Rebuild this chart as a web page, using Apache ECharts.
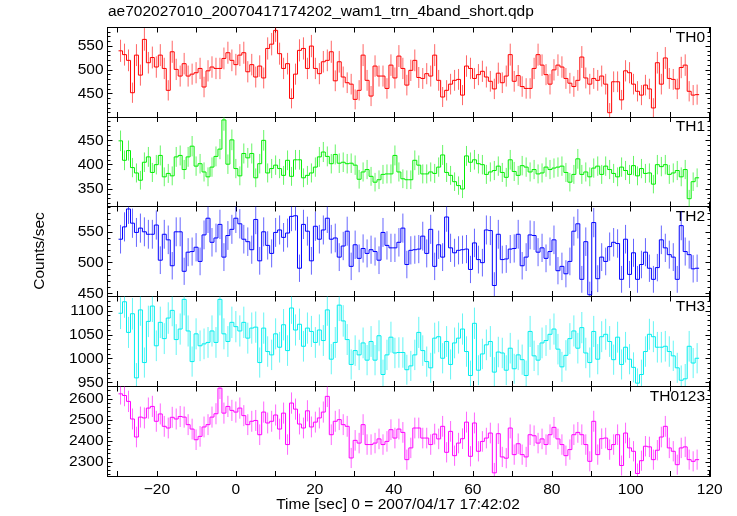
<!DOCTYPE html>
<html><head><meta charset="utf-8">
<script src="https://cdn.jsdelivr.net/npm/echarts@6/dist/echarts.min.js"></script>
<style>html,body{margin:0;padding:0;background:#fff}#c{width:737px;height:516px}</style>
</head><body><div id="c"></div>
<script>
// ---------------- data ----------------
const panelNames = ['TH0', 'TH1', 'TH2', 'TH3', 'TH0123'];
const timeStart = -29.2;   // centre of first bin [sec]
const binWidth = 1.007;    // bin width [sec]

const th0 = [540,532,520,452,531,489,564,515,526,506,531,503,457,538,501,487,513,487,491,494,
503,464,498,506,503,503,524,536,520,511,531,536,496,511,485,508,483,545,554,583,
534,503,513,440,491,541,545,503,550,503,492,517,520,538,477,517,485,473,470,438,
457,531,478,445,508,487,487,461,510,483,529,503,468,499,520,484,482,492,
487,531,478,443,457,470,478,480,447,508,503,482,490,497,485,476,460,493,473,487,
532,476,488,465,461,461,503,532,510,490,470,500,510,506,482,472,465,478,527,483,
470,482,478,487,470,410,475,475,437,498,494,470,455,447,468,460,420,515,470,525,
482,480,460,505,510,455,447,448];

const th1 = [449,409,429,394,383,368,405,416,384,400,419,375,382,377,416,419,390,416,438,397,
402,385,375,395,417,432,492,401,451,392,377,423,414,423,373,402,450,383,392,399,
392,378,409,376,410,410,373,378,383,395,416,426,417,402,421,403,405,402,403,399,
370,385,390,376,364,369,380,381,381,419,385,371,369,369,409,399,381,381,
385,382,395,420,384,378,365,357,350,418,405,410,402,400,380,385,388,397,384,374,
410,386,378,398,395,385,390,381,383,395,390,393,395,397,384,364,380,412,380,385,
375,393,397,380,397,390,382,375,395,388,380,398,377,392,382,383,360,400,396,400,
380,383,388,375,390,330,365,373];

const th2 = [538,558,587,564,549,556,550,546,546,561,504,546,537,495,550,550,486,517,518,525,
502,545,572,533,540,562,509,544,554,572,563,538,534,521,570,503,550,528,515,549,
553,541,548,575,576,491,562,551,503,559,538,553,572,538,540,509,527,551,494,529,
507,523,515,521,518,504,549,528,524,524,533,556,497,520,521,522,543,515,
554,494,529,509,574,524,516,520,521,522,489,532,505,500,553,552,463,546,505,506,
522,523,546,495,509,545,544,517,524,507,518,537,487,494,482,502,551,563,473,534,
448,565,474,509,502,526,533,531,473,538,481,516,473,497,517,491,473,492,537,524,
513,509,473,560,518,513,490,491];

const th3 = [1095,1119,1055,1094,960,1102,992,1078,1110,1027,1076,1042,1085,1101,1040,1062,1124,1058,994,1052,
1027,1031,1034,1058,1034,1124,1052,1036,1076,1067,1058,1076,1043,1064,1066,992,1064,1015,1008,1052,
1024,1071,1017,1106,1060,1072,1026,1064,1057,1034,1060,1038,1102,999,1034,1112,1079,1040,988,1017,
1008,1033,997,1036,997,1048,967,1008,1045,1012,1013,1013,977,985,1008,1055,1017,994,
981,1043,1046,1001,1036,988,1033,1043,1062,1015,965,1074,976,1010,1029,1036,972,1014,1012,976,
1022,979,1008,998,965,1057,1006,997,1033,1038,1051,1062,1020,983,1007,1042,1058,1022,1065,1012,
992,1057,999,1046,1051,1036,998,1045,988,1024,999,982,949,967,1015,1051,1046,1024,1024,1026,
1015,1006,981,955,958,1026,991,1001];

const th0123 = [2625,2617,2589,2505,2419,2514,2510,2557,2565,2494,2529,2470,2462,2513,2505,2517,2514,2478,2457,2406,
2422,2467,2478,2514,2530,2652,2533,2565,2546,2538,2557,2521,2478,2494,2498,2430,2538,2486,2494,2524,
2457,2533,2383,2581,2552,2481,2462,2544,2467,2490,2510,2538,2613,2430,2494,2502,2478,2470,2319,2403,
2390,2478,2383,2383,2390,2410,2383,2398,2454,2414,2457,2441,2311,2367,2462,2462,2414,2414,
2383,2433,2410,2470,2346,2446,2330,2390,2411,2490,2327,2486,2351,2398,2414,2438,2248,2435,2324,2318,
2462,2335,2387,2335,2324,2430,2425,2390,2410,2383,2430,2465,2410,2383,2330,2359,2430,2441,2430,2383,
2303,2494,2335,2411,2414,2359,2383,2430,2283,2438,2367,2351,2245,2306,2375,2372,2311,2356,2419,2470,
2367,2351,2287,2367,2372,2311,2303,2311];

const xTickValues = [-30,-20,-10,0,10,20,30,40,50,60,70,80,90,100,110,120];
const xLabelValues = [-20,0,20,40,60,80,100,120];
const yLabelValues = [[450,500,550],[350,400,450],[450,500,550],[950,1000,1050,1100],[2300,2400,2500,2600]];
const yMinorStep = [10,10,10,10,20];
const yRanges = [[401,589],[314,498],[446,591],[943,1130],[2233,2660]];
const xRange = [-32.5, 120.2];
const titleText = 'ae702027010_20070417174202_wam1_trn_4band_short.qdp';
const xTitle = 'Time [sec] 0 = 2007/04/17 17:42:02';
const yTitle = 'Counts/sec';

// ---------------- styles / layout ----------------
const seriesData = [th0, th1, th2, th3, th0123];
const colors = ['#ff0000', '#00ee00', '#0000ff', '#00eeee', '#ff00ff'];
const FONT = '"Liberation Sans", Arial, Helvetica, sans-serif';
const FS = 15.5;
const gridLeft = 107.5, gridWidth = 603;
const gridTops = [27.5, 117, 206.5, 296.5, 386.5];
const gridH = 89.5;

function fmt(v) { return v < 0 ? '\u2212' + (-v) : String(v); }
function minorVals(p) {
  const out = [];
  const s = yMinorStep[p];
  const [lo, hi] = yRanges[p];
  for (let v = Math.ceil(lo / s) * s; v <= hi; v += s) {
    if (yLabelValues[p].indexOf(v) < 0) out.push(v);
  }
  return out;
}

const grids = [], xAxes = [], yAxes = [], series = [], graphics = [];
panelNames.forEach((name, p) => {
  grids.push({left: gridLeft, top: gridTops[p], width: gridWidth, height: gridH, containLabel: false});
  const lineStyle = {color: '#000', width: 1};
  ['bottom', 'top'].forEach((pos) => {
    xAxes.push({
      gridIndex: p, type: 'value', min: xRange[0], max: xRange[1], position: pos,
      axisLine: {show: true, onZero: false, lineStyle},
      axisTick: {show: true, inside: true, length: 5, lineStyle, customValues: xTickValues},
      axisLabel: {show: p === 4 && pos === 'bottom', customValues: xLabelValues, formatter: fmt,
        color: '#000', fontFamily: FONT, fontSize: FS, margin: 6},
      splitLine: {show: false}
    });
  });
  ['left', 'right'].forEach((pos) => {
    yAxes.push({
      gridIndex: p, type: 'value', min: yRanges[p][0], max: yRanges[p][1], position: pos,
      axisLine: {show: true, onZero: false, lineStyle},
      axisTick: {show: true, inside: true, length: 5, lineStyle, customValues: yLabelValues[p]},
      axisLabel: {show: pos === 'left', customValues: yLabelValues[p], formatter: fmt, color: '#000',
        fontFamily: FONT, fontSize: FS, margin: 4},
      splitLine: {show: false}
    });
  });
  ['left', 'right'].forEach((pos) => {
    yAxes.push({
      gridIndex: p, type: 'value', min: yRanges[p][0], max: yRanges[p][1], position: pos,
      axisLine: {show: false, onZero: false},
      axisTick: {show: true, inside: true, length: 3, lineStyle, customValues: minorVals(p)},
      axisLabel: {show: false},
      splitLine: {show: false}
    });
  });

  const arr = seriesData[p];
  const color = colors[p];
  const data = arr.map((v, i) => [timeStart + i * binWidth, v, Math.sqrt(v), i > 0 ? arr[i - 1] : v]);
  series.push({
    type: 'custom', name, xAxisIndex: 2 * p, yAxisIndex: 4 * p, clip: true,
    data,
    renderItem: function (params, api) {
      const t = api.value(0), v = api.value(1), e = api.value(2), prev = api.value(3);
      const a = api.coord([t - binWidth / 2, v]);
      const b = api.coord([t + binWidth / 2, v]);
      const lo = api.coord([t, v - e]);
      const hi = api.coord([t, v + e]);
      const pp = api.coord([t - binWidth / 2, prev]);
      return {
        type: 'group',
        children: [
          {type: 'line', shape: {x1: lo[0], y1: lo[1], x2: hi[0], y2: hi[1]},
            style: {stroke: color, lineWidth: 1, opacity: 0.6}},
          {type: 'line', shape: {x1: a[0], y1: a[1], x2: b[0], y2: b[1]},
            style: {stroke: color, lineWidth: 1}},
          {type: 'line', shape: {x1: a[0], y1: pp[1], x2: a[0], y2: a[1]},
            style: {stroke: color, lineWidth: 1}}
        ]
      };
    }
  });

  graphics.push({
    type: 'text', right: 737 - 705, top: gridTops[p] + 2,
    style: {text: name, fill: '#000', font: FS + 'px ' + FONT}
  });
});

graphics.push({type: 'text', left: 108, top: 4,
  style: {text: titleText, fill: '#000', font: FS + 'px ' + FONT}});
graphics.push({type: 'text', x: 398, y: 505,
  style: {text: xTitle, fill: '#000', font: FS + 'px ' + FONT, align: 'center', verticalAlign: 'middle'}});
graphics.push({type: 'text', x: 40, y: 251, rotation: Math.PI / 2,
  style: {text: yTitle, fill: '#000', font: FS + 'px ' + FONT, align: 'center', verticalAlign: 'middle'}});

const chart = echarts.init(document.getElementById('c'), null, {renderer: 'canvas'});
chart.setOption({
  animation: false,
  backgroundColor: '#fff',
  grid: grids, xAxis: xAxes, yAxis: yAxes, series, graphic: graphics
});
</script></body></html>
